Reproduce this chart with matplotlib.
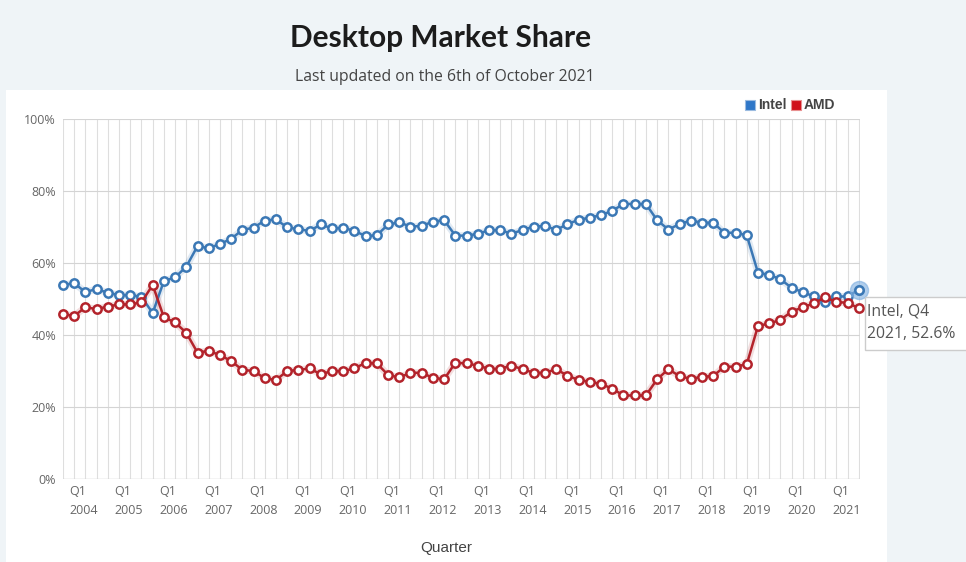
import matplotlib.pyplot as plt
from matplotlib.patches import Rectangle
import numpy as np

# quarterly data, Q1 2004 .. Q4 2021
years = list(range(2004, 2022))
quarters = [f"Q{q} {y}" for y in years for q in (1, 2, 3, 4)]

intel = [53.9, 54.4, 51.9, 52.8, 51.7, 51.1, 51.1, 50.6, 46.1, 55.0, 56.0, 59.0,
         64.7, 64.1, 65.3, 66.7, 69.2, 69.8, 71.8, 72.1, 69.9, 69.4, 68.9, 70.7,
         69.6, 69.8, 68.9, 67.5, 67.7, 70.7, 71.3, 70.1, 70.3, 71.5, 71.9, 67.6,
         67.6, 68.1, 69.1, 69.2, 68.1, 69.2, 70.1, 70.3, 69.2, 70.8, 72.0, 72.6,
         73.3, 74.5, 76.4, 76.4, 76.4, 71.9, 69.3, 70.8, 71.8, 71.2, 71.2, 68.4,
         68.4, 67.7, 57.3, 56.7, 55.5, 53.1, 51.9, 50.7, 49.2, 50.7, 50.7, 52.6]

amd = [45.8, 45.3, 47.7, 47.2, 47.9, 48.5, 48.5, 49.1, 53.9, 44.9, 43.5, 40.6,
       35.1, 35.6, 34.4, 32.8, 30.3, 30.0, 28.0, 27.5, 30.0, 30.3, 30.7, 29.1,
       30.0, 30.0, 30.7, 32.3, 32.1, 28.9, 28.2, 29.5, 29.5, 28.1, 27.7, 32.3,
       32.1, 31.5, 30.6, 30.6, 31.5, 30.5, 29.5, 29.5, 30.5, 28.7, 27.5, 27.0,
       26.4, 25.1, 23.2, 23.2, 23.2, 27.7, 30.5, 28.6, 27.8, 28.4, 28.6, 31.2,
       31.2, 31.9, 42.5, 43.2, 44.2, 46.5, 47.7, 48.8, 50.5, 49.1, 49.0, 47.4]

blue = '#3b78b5'
red = '#b3232b'
bg = '#eff4f7'

fig = plt.figure(figsize=(9.66, 5.62), dpi=100, facecolor=bg)
# white panel behind the chart
fig.patches.append(Rectangle((6/966, 0), 881/966, 1 - 90/562, transform=fig.transFigure,
                             facecolor='white', edgecolor='none', zorder=-1))

ax = fig.add_axes([63/966, 1 - 479/562, 797/966, 360/562])
ax.set_facecolor('none')

x = np.arange(len(quarters))

for vals, c in ((intel, blue), (amd, red)):
    ax.plot(x, vals, color=c, lw=5, alpha=0.15, solid_capstyle='round', zorder=3, clip_on=False)
    ax.plot(x, vals, color=c, lw=1.8, marker='o', ms=6, mfc='white', mec=c, mew=1.8,
            zorder=4, clip_on=False)

# hovered point
ax.plot(x[-1], intel[-1], 'o', ms=13, color='#7eaee0', alpha=0.6, zorder=5, clip_on=False)
ax.plot(x[-1], intel[-1], 'o', ms=6, mfc='white', mec=blue, mew=1.8, zorder=6, clip_on=False)

ax.set_xlim(0, 71.1)
ax.set_ylim(0, 100)
ax.set_xticks(x, minor=True)
ax.set_xticks([])
ax.grid(True, which='minor', axis='x', color='#dedede', lw=0.8)
ax.set_yticks(range(0, 101, 20))
ax.set_yticklabels([f'{v}%' for v in range(0, 101, 20)], fontsize=9, color='#666666',
                   family='Open Sans')
ax.grid(True, axis='y', color='#d4d4d4', lw=0.8)
ax.tick_params(axis='y', length=0, pad=5)
ax.tick_params(axis='x', which='both', length=0)
for s in ax.spines.values():
    s.set_visible(False)
ax.axhline(0, color='#d4d4d4', lw=1)

# year labels (Q1 of each year)
for k, y in enumerate(years):
    ax.text(4 * k + 0.6, -1.8, f'Q1\n{y}', ha='left', va='top', fontsize=9, color='#666666',
            family='Open Sans', linespacing=1.6)

fig.text(446/966, 1 - 548/562, 'Quarter', ha='center', va='center', fontsize=11,
         color='#444444', family='Liberation Sans')

fig.text(441/966, 1 - 38/562, 'Desktop Market Share', ha='center', va='center',
         fontsize=21.5, fontweight='bold', color='#1c1c1c', family='Lato')
fig.text(445/966, 1 - 77/562, 'Last updated on the 6th of October 2021', ha='center',
         va='center', fontsize=11.3, color='#444444', family='Open Sans')

# legend
fig.patches.append(Rectangle((745/966, 1 - 110/562), 10/966, 10/562, transform=fig.transFigure,
                             facecolor='#2f77c8', edgecolor='#9bbbe0', lw=0.8))
fig.text(758/966, 1 - 105/562, 'Intel', ha='left', va='center', fontsize=10,
         fontweight='bold', color='#444444', family='Liberation Sans')
fig.patches.append(Rectangle((791/966, 1 - 110/562), 10/966, 10/562, transform=fig.transFigure,
                             facecolor='#d0121b', edgecolor='#e89090', lw=0.8))
fig.text(804/966, 1 - 105/562, 'AMD', ha='left', va='center', fontsize=10,
         fontweight='bold', color='#444444', family='Liberation Sans')

# tooltip
fig.patches.append(Rectangle((865/966, 1 - 350/562), 110/966, 53/562, transform=fig.transFigure,
                             facecolor='white', edgecolor='#cccccc', lw=1, zorder=10))
fig.text(867/966, 1 - 312/562, 'Intel, Q4', ha='left', va='center', fontsize=11.3,
         color='#555555', family='Open Sans', zorder=11)
fig.text(867/966, 1 - 334/562, '2021, 52.6%', ha='left', va='center', fontsize=11.3,
         color='#555555', family='Open Sans', zorder=11)

fig.savefig('out.png', dpi=100, facecolor=bg)
